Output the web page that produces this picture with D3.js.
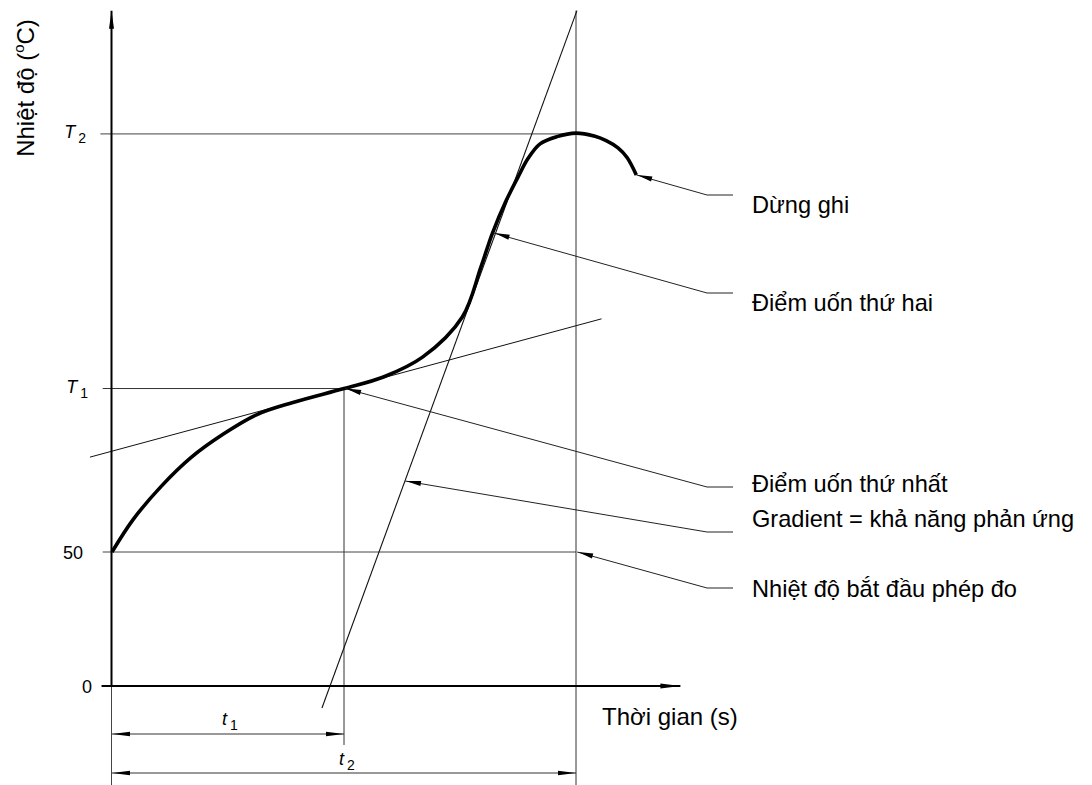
<!DOCTYPE html>
<html><head><meta charset="utf-8">
<script src="https://cdn.jsdelivr.net/npm/d3@7"></script>
<style>body{margin:0;background:#fff}svg{display:block}</style>
</head><body>
<svg id="chart" width="1092" height="785"></svg>
<script>
// ---------- data ----------
const curveTime = [0, 0.9, 2.1, 3.4, 4.8, 6.25, 7.8, 10, 11.7, 13.4, 15.1, 15.9, 16.4, 17.0, 17.5, 17.93, 18.45, 19.18, 20.0, 20.82, 21.3, 21.81, 22.2, 22.6];
const curveTemp = [50, 62, 74.3, 85.2, 94.0, 101.3, 105.8, 111, 115.3, 122.8, 137.7, 156.3, 169, 181.3, 189.9, 196.8, 202.3, 205.0, 206.3, 205.1, 203.5, 200.8, 197.2, 190.7];
const t1 = 10, t2 = 20;          // time marks
const T1 = 111, T2 = 206;        // temperature marks
const startTemp = 50;
const yTickValues = [0, 50, T1, T2];
const yTickNames = ["0", "50", "T", "T"];
const yTickSubs = ["", "", "1", "2"];
const tangent1Time = [-0.95, 21.1];
const tangent1Temp = [85.4, 137.0];
const tangent2Time = [9.05, 20.04];
const tangent2Temp = [-8.2, 252];
const annotationLabels = ["Dừng ghi", "Điểm uốn thứ hai", "Điểm uốn thứ nhất", "Gradient = khả năng phản ứng", "Nhiệt độ bắt đầu phép đo"];
const annotationTime = [22.6, 16.45, 10.05, 12.63, 20.05];
const annotationTemp = [190.7, 169, 111, 76.5, 50];
const xAxisTitle = "Thời gian (s)";
const yAxisTitle = ["Nhiệt độ (", "o", "C)"];

// ---------- layout ----------
const L = {
  annElbowX: 707, annEndX: 733, annTextX: 752,
  annElbowY: [195, 293, 487, 532, 588],
  annTextY: [213, 311, 492, 527, 597],
  tickRight: [92, 83, 88, 86],
  dimY1: 734, dimY2: 773
};

const svg = d3.select("#chart");
const x = d3.scaleLinear().domain([0, 20]).range([112, 576]);
const y = d3.scaleLinear().domain([0, 250]).range([686, 16]);
const FONT = "'Liberation Sans', Arial, Helvetica, sans-serif";

function line(x1, y1, x2, y2, w, c) {
  svg.append("line").attr("x1", x1).attr("y1", y1).attr("x2", x2).attr("y2", y2)
    .attr("stroke", c || "#222").attr("stroke-width", w || 1);
}
function arrowHead(tx, ty, fx, fy, len, hw) {
  const dx = tx - fx, dy = ty - fy, d = Math.hypot(dx, dy);
  const ux = dx / d, uy = dy / d;
  const bx = tx - ux * len, by = ty - uy * len;
  const px = -uy * hw, py = ux * hw;
  svg.append("path")
    .attr("d", `M${tx},${ty}L${bx + px},${by + py}L${bx - px},${by - py}Z`)
    .attr("fill", "#000");
}

// reference lines
line(x(-0.5), y(T2), x(t2), y(T2), 1, "#444");
line(x(-0.4), y(T1), x(t1), y(T1), 1, "#333");
line(x(-0.4), y(startTemp), x(t2), y(startTemp), 1, "#444");
line(x(t1), y(T1), x(t1), y(-22), 1, "#333");
line(x(t2), y(252), x(t2), y(-37), 1, "#333");
line(x(0) - 0.5, y(0), x(0) - 0.5, y(-37), 1, "#444");

// tangents
line(x(tangent1Time[0]), y(tangent1Temp[0]), x(tangent1Time[1]), y(tangent1Temp[1]), 1, "#111");
line(x(tangent2Time[0]), y(tangent2Temp[0]), x(tangent2Time[1]), y(tangent2Temp[1]), 1.1, "#111");

// axes
line(x(-0.45), y(0), x(24.5), y(0), 2, "#000");
arrowHead(x(24.5), y(0), x(20), y(0), 20, 2.5);
line(x(0) - 0.5, y(0), x(0) - 0.5, y(252), 2, "#000");
arrowHead(x(0) - 0.5, y(252), x(0) - 0.5, y(200), 18, 2.5);

// curve
const pts = curveTime.map((t, i) => [t, curveTemp[i]]);
svg.append("path").datum(pts)
  .attr("d", d3.line().x(d => x(d[0])).y(d => y(d[1])).curve(d3.curveCatmullRom.alpha(0.5)))
  .attr("fill", "none").attr("stroke", "#000").attr("stroke-width", 3.6)
  .attr("stroke-linecap", "butt").attr("stroke-linejoin", "round");

// tick labels
yTickValues.forEach((v, i) => {
  const t = svg.append("text").attr("x", L.tickRight[i]).attr("y", y(v) + (yTickSubs[i] ? 4 : 6.5))
    .attr("text-anchor", "end").attr("font-family", FONT).attr("font-size", 18).attr("fill", "#000");
  t.append("tspan").attr("font-style", yTickSubs[i] ? "italic" : "normal").text(yTickNames[i]);
  if (yTickSubs[i]) t.append("tspan").attr("font-size", 14).attr("dx", 3).attr("dy", 5).text(yTickSubs[i]);
});

// dimension lines
function dim(xa, xb, yy) {
  line(xa, yy, xb, yy, 1, "#333");
  arrowHead(xa, yy, xb, yy, 18, 2.3);
  arrowHead(xb, yy, xa, yy, 18, 2.3);
}
dim(x(0), x(t1), L.dimY1);
dim(x(0), x(t2), L.dimY2);
function italicSub(xx, yy, name, sub) {
  const t = svg.append("text").attr("x", xx).attr("y", yy)
    .attr("font-family", FONT).attr("font-size", 18).attr("fill", "#000");
  t.append("tspan").attr("font-style", "italic").text(name);
  t.append("tspan").attr("font-size", 14).attr("dx", 3).attr("dy", 5).text(sub);
}
italicSub(x(t1 / 2) - 6, 725, "t", "1");
italicSub(x(t1) - 5, 765, "t", "2");

// annotations
annotationLabels.forEach((lab, i) => {
  const tx = x(annotationTime[i]), ty = y(annotationTemp[i]);
  const ey = L.annElbowY[i];
  svg.append("path")
    .attr("d", `M${tx},${ty}L${L.annElbowX},${ey}L${L.annEndX},${ey}`)
    .attr("fill", "none").attr("stroke", "#222").attr("stroke-width", 1);
  arrowHead(tx + 1, ty, L.annElbowX, ey, 15, 2.6);
  svg.append("text").attr("x", L.annTextX).attr("y", L.annTextY[i])
    .attr("font-family", FONT).attr("font-size", 23.6).attr("fill", "#000").text(lab);
});

// axis titles
svg.append("text").attr("x", 602).attr("y", 725)
  .attr("font-family", FONT).attr("font-size", 24).attr("fill", "#000").text(xAxisTitle);
const yt = svg.append("text").attr("transform", "translate(34,88) rotate(-90)")
  .attr("text-anchor", "middle").attr("font-family", FONT).attr("font-size", 24).attr("fill", "#000");
yt.append("tspan").text(yAxisTitle[0]);
yt.append("tspan").attr("font-size", 15).attr("dy", -10).text(yAxisTitle[1]);
yt.append("tspan").attr("dy", 10).text(yAxisTitle[2]);
</script>
</body></html>
